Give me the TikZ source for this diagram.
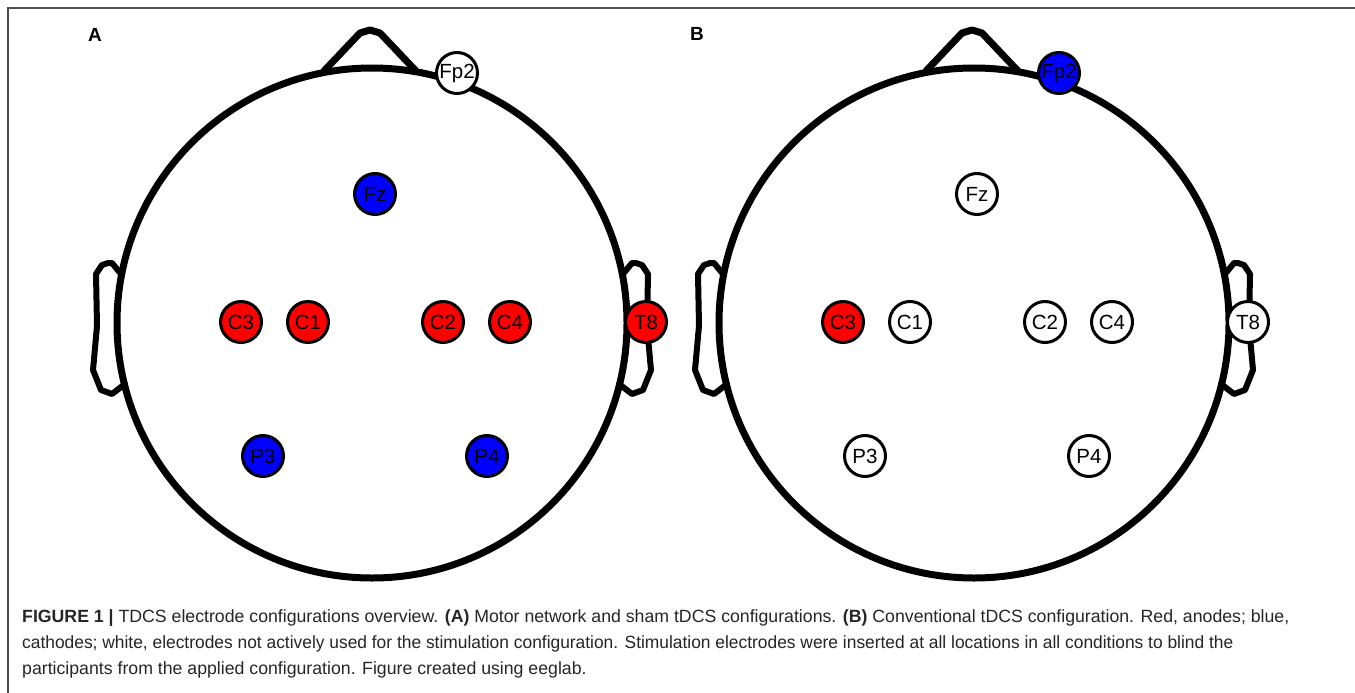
\documentclass[tikz,border=0pt]{standalone}
\usepackage{fontspec}
\setmainfont{Liberation Sans}
\begin{document}
\begin{tikzpicture}[x=1pt,y=-1pt,
  headline/.style={line width=7pt, line join=round, line cap=round},
  earline/.style={line width=6pt, line join=round, line cap=round},
  elec/.style={circle, draw=black, line width=3pt, minimum size=41pt, inner sep=0pt, font=\fontsize{20.5}{20.5}\selectfont},
  anode/.style={elec, fill=red},
  cathode/.style={elec, fill=blue},
  idle/.style={elec, fill=white},
  panel/.style={font=\fontsize{19}{19}\selectfont\bfseries},
  capline/.style={anchor=base west, inner sep=0pt, font=\fontsize{17.7}{20}\selectfont, text=black!85}]
\useasboundingbox (0,0) rectangle (1355,693);
\fill[white] (0,0) rectangle (1355,693);
\draw[gray!60!black, line width=1.5pt] (1356,8) -- (8,8) -- (8,694);

\foreach \cx in {372,974}{
\begin{scope}[shift={(\cx,323)}]
  % ears
  \draw[earline] (251,-49) -- (260,-60) -- (264,-60) -- (270,-58) -- (276,-49) -- (275,3) -- (279,47) -- (271,67) -- (260,71) -- (247,61);
  \draw[earline] (-251,-49) -- (-260,-60) -- (-264,-60) -- (-270,-58) -- (-276,-49) -- (-275,3) -- (-279,47) -- (-271,67) -- (-260,71) -- (-247,61);
  % nose
  \draw[headline] (-48,-252) -- (-12,-290) -- (-2,-293) -- (8,-290) -- (44,-252);
  % head
  \draw[line width=7pt] (0,0) circle[radius=255];
\end{scope}
}

% panel labels
\node[panel] (labA) at (95,35) {A};
\node[panel] (labB) at (697,34) {B};

% panel A electrodes
\node[idle] (A-Fp2) at (457,73) {Fp2};
\node[cathode] (A-Fz) at (375,194) {Fz};
\node[anode] (A-C3) at (241,322) {C3};
\node[anode] (A-C1) at (308,322) {C1};
\node[anode] (A-C2) at (443,322) {C2};
\node[anode] (A-C4) at (510,322) {C4};
\node[anode] (A-T8) at (646,322) {T8};
\node[cathode] (A-P3) at (263,456) {P3};
\node[cathode] (A-P4) at (487,456) {P4};

% panel B electrodes
\node[cathode] (B-Fp2) at (1059,73) {Fp2};
\node[idle] (B-Fz) at (977,194) {Fz};
\node[anode] (B-C3) at (843,322) {C3};
\node[idle] (B-C1) at (910,322) {C1};
\node[idle] (B-C2) at (1045,322) {C2};
\node[idle] (B-C4) at (1112,322) {C4};
\node[idle] (B-T8) at (1248,322) {T8};
\node[idle] (B-P3) at (865,456) {P3};
\node[idle] (B-P4) at (1089,456) {P4};

% caption
\node[capline] (cap1) at (22,622) {\textbf{FIGURE 1 |} TDCS electrode configurations overview. \textbf{(A)} Motor network and sham tDCS configurations. \textbf{(B)} Conventional tDCS configuration. Red, anodes; blue,};
\node[capline] (cap2) at (22,648) {\scalebox{0.982}[1]{cathodes; white, electrodes not actively used for the stimulation configuration. Stimulation electrodes were inserted at all locations in all conditions to blind the}};
\node[capline] (cap3) at (22,674) {participants from the applied configuration. Figure created using eeglab.};
\end{tikzpicture}
\end{document}
